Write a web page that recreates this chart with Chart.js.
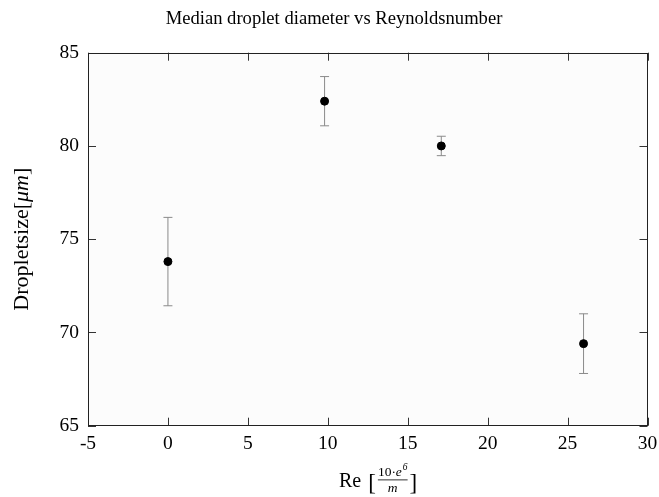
<!DOCTYPE html>
<html>
<head>
<meta charset="utf-8">
<script src="https://cdn.jsdelivr.net/npm/chart.js@4.4.1/dist/chart.umd.min.js"></script>
<style>
html,body{margin:0;padding:0;background:#fff;}
#wrap{width:659px;height:497px;}
</style>
</head>
<body>
<div id="wrap"><canvas id="c" width="659" height="497"></canvas></div>
<script>
// ---- data ----
const reynolds = [0, 9.8, 17.1, 26];
const dropletSize = [73.8, 82.4, 80.0, 69.4];
const dropletError = [2.37, 1.32, 0.52, 1.6];
const xTickValues = [-5, 0, 5, 10, 15, 20, 25, 30];
const yTickValues = [65, 70, 75, 80, 85];
const titleText = 'Median droplet diameter vs Reynoldsnumber';
const yLabelMain = 'Dropletsize';
const yLabelUnit = 'μm';
const xLabelMain = 'Re';
const xLabelNum = '10·';
const xLabelNumVar = 'e';
const xLabelExp = '6';
const xLabelDen = 'm';

const FONT = '"Liberation Serif", "DejaVu Serif", serif';

const points = reynolds.map((x, i) => ({x: x, y: dropletSize[i]}));

const framePlugin = {
  id: 'frame',
  beforeDraw(chart) {
    const {ctx, chartArea: a} = chart;
    ctx.save();
    ctx.fillStyle = '#fcfcfc';
    ctx.fillRect(a.left, a.top, a.right - a.left, a.bottom - a.top);
    ctx.restore();
  },
  beforeDatasetsDraw(chart) {
    const {ctx, scales} = chart;
    ctx.save();
    ctx.strokeStyle = '#8a8a8a';
    ctx.lineWidth = 1;
    reynolds.forEach((xv, i) => {
      const px = scales.x.getPixelForValue(xv);
      const top = scales.y.getPixelForValue(dropletSize[i] + dropletError[i]);
      const bot = scales.y.getPixelForValue(dropletSize[i] - dropletError[i]);
      ctx.beginPath();
      ctx.moveTo(px, top); ctx.lineTo(px, bot);
      ctx.moveTo(px - 4.5, top); ctx.lineTo(px + 4.5, top);
      ctx.moveTo(px - 4.5, bot); ctx.lineTo(px + 4.5, bot);
      ctx.stroke();
    });
    ctx.restore();
  },
  afterDraw(chart) {
    const {ctx, chartArea: a, scales} = chart;
    ctx.save();
    // title
    ctx.fillStyle = '#000';
    ctx.font = '18.6px ' + FONT;
    ctx.textAlign = 'center';
    ctx.textBaseline = 'middle';
    ctx.fillText(titleText, 334, 19);

    ctx.strokeStyle = '#333';
    ctx.lineWidth = 1;
    const L = 8;
    ctx.beginPath();
    xTickValues.forEach(v => {
      const px = Math.round(scales.x.getPixelForValue(v)) + 0.5;
      ctx.moveTo(px, a.bottom); ctx.lineTo(px, a.bottom - L);
      ctx.moveTo(px, a.top); ctx.lineTo(px, a.top + L);
    });
    yTickValues.forEach(v => {
      const py = Math.round(scales.y.getPixelForValue(v)) + 0.5;
      ctx.moveTo(a.left, py); ctx.lineTo(a.left + L, py);
      ctx.moveTo(a.right, py); ctx.lineTo(a.right - L, py);
    });
    ctx.stroke();
    ctx.strokeStyle = '#222';
    ctx.strokeRect(Math.round(a.left) + 0.5, Math.round(a.top) + 0.5,
                   Math.round(a.right - a.left) - 1, Math.round(a.bottom - a.top) - 1);

    // y axis label
    ctx.fillStyle = '#000';
    ctx.translate(22, (a.top + a.bottom) / 2);
    ctx.rotate(-Math.PI / 2);
    ctx.textBaseline = 'middle';
    const fRoman = '22px ' + FONT;
    const fItal = 'italic 22px ' + FONT;
    ctx.font = fRoman;
    const w1 = ctx.measureText(yLabelMain + '[').width;
    const w3 = ctx.measureText(']').width;
    ctx.font = fItal;
    const w2 = ctx.measureText(yLabelUnit).width;
    let sx = -(w1 + w2 + w3) / 2;
    ctx.textAlign = 'left';
    ctx.font = fRoman;
    ctx.fillText(yLabelMain + '[', sx, 0);
    ctx.font = fItal;
    ctx.fillText(yLabelUnit, sx + w1, 0);
    ctx.font = fRoman;
    ctx.fillText(']', sx + w1 + w2, 0);
    ctx.restore();

    // x axis label with fraction
    ctx.save();
    ctx.fillStyle = '#000';
    ctx.textBaseline = 'alphabetic';
    ctx.textAlign = 'left';
    const fRe = '20px ' + FONT;
    const base = 487;
    ctx.font = fRe;
    const wRe = ctx.measureText(xLabelMain + ' ').width;
    const fBr = '23px ' + FONT;
    ctx.font = fBr;
    const wBr = ctx.measureText('[').width;
    const fSmall = '13.5px ' + FONT;
    const fSmallI = 'italic 13.5px ' + FONT;
    const fTiny = 'italic 9.5px ' + FONT;
    ctx.font = fSmall;
    const wn1 = ctx.measureText(xLabelNum).width;
    ctx.font = fSmallI;
    const wn2 = ctx.measureText(xLabelNumVar).width;
    ctx.font = fTiny;
    const wn3 = ctx.measureText(xLabelExp).width;
    const wNum = wn1 + wn2 + wn3 + 1;
    let x0 = 339;
    ctx.font = fRe;
    ctx.fillText(xLabelMain, x0, base);
    x0 += wRe + 2;
    ctx.font = fBr;
    ctx.fillText('[', x0, base + 3);
    x0 += wBr + 2;
    ctx.font = fSmall;
    ctx.fillText(xLabelNum, x0, base - 11);
    ctx.font = fSmallI;
    ctx.fillText(xLabelNumVar, x0 + wn1, base - 11);
    ctx.font = fTiny;
    ctx.fillText(xLabelExp, x0 + wn1 + wn2 + 0.8, base - 17);
    ctx.fillRect(x0, base - 7.5, wNum, 0.8);
    ctx.font = fSmallI;
    const wd = ctx.measureText(xLabelDen).width;
    ctx.fillText(xLabelDen, x0 + (wNum - wd) / 2, base + 4.5);
    x0 += wNum + 2;
    ctx.font = fBr;
    ctx.fillText(']', x0, base + 3);
    ctx.restore();
  }
};

new Chart(document.getElementById('c'), {
  type: 'scatter',
  data: {
    datasets: [{
      data: points,
      backgroundColor: '#000',
      borderColor: '#000',
      pointRadius: 4,
      pointHoverRadius: 4,
      showLine: false
    }]
  },
  options: {
    responsive: false,
    animation: false,
    devicePixelRatio: 1,
    layout: {padding: {left: 0, right: 11.5, top: 52.7, bottom: 0}},
    plugins: {
      legend: {display: false},
      tooltip: {enabled: false},
      title: {display: false}
    },
    scales: {
      x: {
        type: 'linear',
        min: -5, max: 30,
        afterBuildTicks(scale) { scale.ticks = xTickValues.map(v => ({value: v})); },
        afterFit(scale) { scale.height = 71.3; scale.paddingRight = 0; scale.paddingLeft = 0; },
        grid: {display: false, drawTicks: false},
        border: {display: false},
        ticks: {color: '#000', padding: 6, font: {family: FONT, size: 19.5}}
      },
      y: {
        type: 'linear',
        min: 65, max: 85,
        afterBuildTicks(scale) { scale.ticks = yTickValues.map(v => ({value: v})); },
        afterFit(scale) { scale.width = 88; scale.paddingTop = 0; scale.paddingBottom = 0; },
        grid: {display: false, drawTicks: false},
        border: {display: false},
        ticks: {color: '#000', padding: 9, font: {family: FONT, size: 19.5}}
      }
    }
  },
  plugins: [framePlugin]
});
</script>
</body>
</html>
